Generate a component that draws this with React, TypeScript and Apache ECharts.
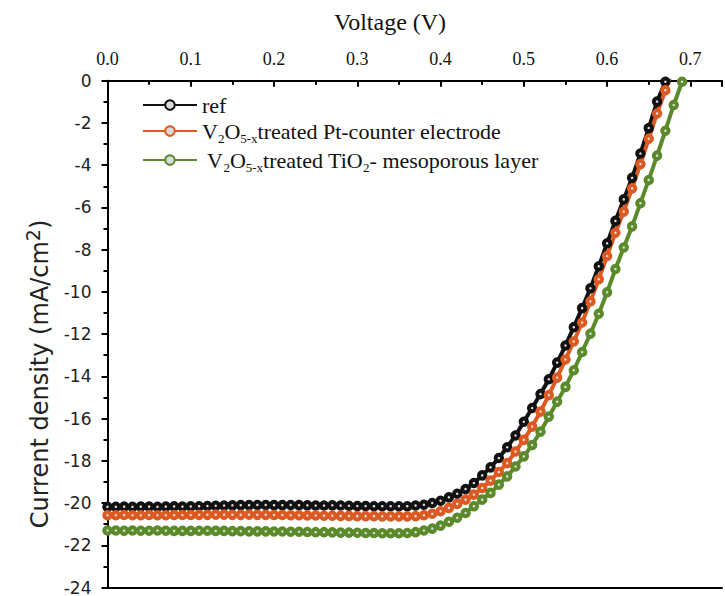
import React, { useEffect, useRef } from 'react';
import * as echarts from 'echarts';

// Voltage (V), 0.01 V steps
const voltage = [
  0.00, 0.01, 0.02, 0.03, 0.04, 0.05, 0.06, 0.07, 0.08, 0.09,
  0.10, 0.11, 0.12, 0.13, 0.14, 0.15, 0.16, 0.17, 0.18, 0.19,
  0.20, 0.21, 0.22, 0.23, 0.24, 0.25, 0.26, 0.27, 0.28, 0.29,
  0.30, 0.31, 0.32, 0.33, 0.34, 0.35, 0.36, 0.37, 0.38, 0.39,
  0.40, 0.41, 0.42, 0.43, 0.44, 0.45, 0.46, 0.47, 0.48, 0.49,
  0.50, 0.51, 0.52, 0.53, 0.54, 0.55, 0.56, 0.57, 0.58, 0.59,
  0.60, 0.61, 0.62, 0.63, 0.64, 0.65, 0.66, 0.67, 0.68, 0.69,
];

// Current density (mA/cm2)
const refJ = [
  -20.18, -20.18, -20.17, -20.18, -20.17, -20.17, -20.18, -20.17, -20.16, -20.17,
  -20.16, -20.15, -20.14, -20.13, -20.12, -20.11, -20.10, -20.10, -20.09, -20.09,
  -20.10, -20.10, -20.09, -20.10, -20.11, -20.12, -20.12, -20.11, -20.12, -20.13,
  -20.14, -20.14, -20.15, -20.15, -20.15, -20.15,
  -20.15, -20.12, -20.08, -20.0, -19.89, -19.73, -19.56, -19.34, -19.05, -18.69,
  -18.31, -17.87, -17.36, -16.8, -16.15, -15.5, -14.84, -14.14, -13.35, -12.54,
  -11.67, -10.77, -9.83, -8.79, -7.7, -6.64, -5.62, -4.6, -3.45, -2.24,
  -0.99, -0.05,
];

const ptJ = [
  -20.58, -20.58, -20.57, -20.58, -20.58, -20.57, -20.58, -20.58, -20.57, -20.57,
  -20.57, -20.56, -20.56, -20.55, -20.55, -20.56, -20.56, -20.55, -20.56, -20.56,
  -20.57, -20.57, -20.58, -20.58, -20.59, -20.59, -20.60, -20.60, -20.61, -20.61,
  -20.62, -20.62, -20.62, -20.63, -20.63, -20.63,
  -20.63, -20.62, -20.58, -20.51, -20.39, -20.23, -20.04, -19.84, -19.6, -19.29,
  -18.94, -18.53, -18.11, -17.56, -17.01, -16.38, -15.67, -14.89, -14.06, -13.2,
  -12.35, -11.45, -10.45, -9.4, -8.3, -7.2, -6.2, -5.1, -3.95, -2.75,
  -1.55, -0.45, 0.65,
];

const tioJ = [
  -21.30, -21.30, -21.31, -21.30, -21.31, -21.31, -21.30, -21.31, -21.32, -21.32,
  -21.32, -21.31, -21.31, -21.32, -21.32, -21.33, -21.33, -21.34, -21.34, -21.34,
  -21.35, -21.35, -21.36, -21.36, -21.37, -21.38, -21.38, -21.39, -21.40, -21.40,
  -21.41, -21.42, -21.42, -21.43, -21.43, -21.43,
  -21.42, -21.38, -21.3, -21.21, -21.07, -20.89, -20.7, -20.47, -20.15, -19.84,
  -19.52, -19.13, -18.74, -18.27, -17.79, -17.25, -16.62, -15.91, -15.2, -14.5,
  -13.71, -12.85, -11.98, -11.04, -10.02, -8.92, -7.9, -6.9, -5.8, -4.7,
  -3.55, -2.37, -1.15, -0.05,
];

const seriesNames = ['ref', 'V2O5-x treated Pt-counter electrode', 'V2O5-x treated TiO2- mesoporous layer'];
const legendRich = [
  '{n|ref}',
  '{n|V}{s|2}{n|O}{s|5-x}{n|treated Pt-counter electrode}',
  '{n| V}{s|2}{n|O}{s|5-x}{n|treated TiO}{s|2}{n|- mesoporous layer}',
];
const seriesColors = ['#111111', '#dc5a22', '#5a8a29'];
const seriesValues = [refJ, ptJ, tioJ];

const xTitle = 'Voltage (V)';
const yTitleRich = '{n|Current density (mA/cm}{sup|2}{n|)}';

const SERIF = '"Liberation Serif", "Times New Roman", serif';
const SANS = '"DejaVu Sans", Verdana, sans-serif';

export default function App() {
  const ref = useRef<HTMLDivElement>(null);
  useEffect(() => {
    if (!ref.current) return;
    const chart = echarts.init(ref.current, null, { renderer: 'svg' });
    const series = seriesValues.map((vals, si) => ({
      name: seriesNames[si],
      type: 'line',
      xAxisIndex: 0,
      data: vals.map((v, i) => [voltage[i], v]),
      symbol: 'circle',
      symbolSize: 6.5,
      showSymbol: true,
      clip: true,
      lineStyle: { color: seriesColors[si], width: 4 },
      itemStyle: { color: '#dcdcdc', borderColor: seriesColors[si], borderWidth: 4 },
      emphasis: { disabled: true },
    }));
    chart.setOption({
      animation: false,
      backgroundColor: '#ffffff',
      grid: { left: 107.5, top: 80.7, right: 0, bottom: 6, containLabel: false },
      xAxis: [
        {
          type: 'value',
          position: 'top',
          min: 0,
          max: 0.738,
          interval: 0.1,
          axisLine: { show: true, onZero: false, lineStyle: { color: '#000', width: 2 } },
          axisTick: { show: true, inside: true, length: 6, lineStyle: { color: '#000', width: 2 } },
          minorTick: { show: true, splitNumber: 2, length: 4, lineStyle: { color: '#000', width: 2 } },
          axisLabel: {
            show: true,
            margin: 13,
            fontFamily: SERIF,
            fontSize: 18,
            color: '#111',
            formatter: (v: number) => (v > 0.72 ? '' : v.toFixed(1)),
          },
          splitLine: { show: false },
        },
        {
          type: 'value',
          position: 'bottom',
          min: 0,
          max: 0.738,
          axisLine: { show: true, onZero: false, lineStyle: { color: '#000', width: 2 } },
          axisTick: { show: false },
          axisLabel: { show: false },
          splitLine: { show: false },
        },
      ],
      yAxis: {
        type: 'value',
        min: -24,
        max: 0,
        interval: 2,
        axisLine: { show: true, onZero: false, lineStyle: { color: '#000', width: 2 } },
        axisTick: { show: true, inside: false, length: 6, lineStyle: { color: '#000', width: 2 } },
        minorTick: { show: true, splitNumber: 2, length: 4, lineStyle: { color: '#000', width: 2 } },
        axisLabel: { margin: 16, fontFamily: SANS, fontSize: 17, color: '#222' },
        splitLine: { show: false },
      },
      legend: {
        orient: 'vertical',
        left: 137,
        top: 89,
        itemWidth: 54,
        itemHeight: 12,
        itemGap: 1,
        data: seriesNames,
        formatter: (name: string) => legendRich[seriesNames.indexOf(name)],
        textStyle: {
          color: '#111',
          fontFamily: SERIF,
          fontSize: 22,
          rich: {
            n: { fontFamily: SERIF, fontSize: 22, lineHeight: 24, color: '#111' },
            s: { fontFamily: SERIF, fontSize: 13, lineHeight: 11, padding: [15, 0, 0, 0], color: '#111' },
          },
        },
      },
      graphic: [
        {
          type: 'text',
          x: 390,
          y: 22,
          style: {
            text: xTitle,
            fontFamily: SERIF,
            fontSize: 24,
            fill: '#111',
            align: 'center',
            verticalAlign: 'middle',
          },
        },
        {
          type: 'text',
          x: 40,
          y: 374,
          rotation: Math.PI / 2,
          style: {
            text: yTitleRich,
            align: 'center',
            verticalAlign: 'middle',
            fill: '#222',
            rich: {
              n: { fontFamily: SANS, fontSize: 24, lineHeight: 34, fill: '#222' },
              sup: { fontFamily: SANS, fontSize: 19, lineHeight: 19, verticalAlign: 'top', fill: '#222' },
            },
          },
        },
      ],
      series,
    });
    return () => chart.dispose();
  }, []);
  return (
    <div
      ref={ref}
      style={{ position: 'fixed', left: 0, top: 0, width: 725, height: 596, background: '#fff' }}
    />
  );
}
